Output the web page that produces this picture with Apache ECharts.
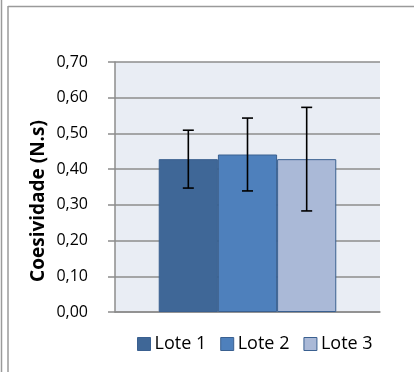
<!DOCTYPE html>
<html>
<head>
<meta charset="utf-8">
<script src="https://cdn.jsdelivr.net/npm/echarts@6/dist/echarts.min.js"></script>
<style>
html,body{margin:0;padding:0;background:#fff;}
#c{width:414px;height:372px;}
</style>
</head>
<body>
<div id="c"></div>
<script>
var categories = [''];
var seriesNames = ['Lote 1', 'Lote 2', 'Lote 3'];
var means = [0.428, 0.441, 0.428];
var errors = [0.081, 0.102, 0.145];
var colors = ['#3F6797', '#4E80BC', '#AAB9D7'];
var yTitle = 'Coesividade (N.s)';

var chart = echarts.init(document.getElementById('c'), null, {renderer: 'canvas'});
var CAT_GAP = 0.33;

var series = [];
seriesNames.forEach(function (name, i) {
  series.push({
    name: name,
    type: 'bar',
    data: [means[i]],
    barGap: '0%',
    barCategoryGap: '33%',
    itemStyle: {color: colors[i], borderColor: '#3A6090', borderWidth: 1},
    z: 2
  });
});
seriesNames.forEach(function (name, i) {
  series.push({
    type: 'custom',
    name: name + ' err',
    data: [[0, means[i], errors[i]]],
    z: 5,
    renderItem: function (params, api) {
      var c = api.coord([api.value(0), api.value(1)]);
      var bandW = api.size([1, 0])[0];
      var bw = bandW * (1 - CAT_GAP) / seriesNames.length;
      var cx = c[0] + (i - (seriesNames.length - 1) / 2) * bw;
      var top = api.coord([api.value(0), api.value(1) + api.value(2)])[1];
      var bot = api.coord([api.value(0), api.value(1) - api.value(2)])[1];
      var hw = 5.5;
      var st = {stroke: '#000', lineWidth: 1.6};
      return {
        type: 'group',
        children: [
          {type: 'line', shape: {x1: cx, y1: top, x2: cx, y2: bot}, style: st},
          {type: 'line', shape: {x1: cx - hw, y1: top, x2: cx + hw, y2: top}, style: st},
          {type: 'line', shape: {x1: cx - hw, y1: bot, x2: cx + hw, y2: bot}, style: st}
        ]
      };
    }
  });
});

chart.setOption({
  animation: false,
  grid: {left: 115, right: 34, top: 62, bottom: 60, show: true, backgroundColor: '#E9EDF4', borderWidth: 0},
  legend: {
    data: seriesNames,
    left: 137, top: 335, padding: 0,
    icon: 'rect', itemWidth: 13, itemHeight: 13, itemGap: 14,
    textStyle: {fontFamily: 'Open Sans', fontSize: 18, color: '#000', padding: [0, 0, 0, -1]},
    itemStyle: {borderColor: '#3A6090', borderWidth: 1}
  },
  xAxis: {
    type: 'category', data: categories,
    axisLine: {show: true, lineStyle: {color: '#8C8C8C', width: 1.5}},
    axisTick: {show: false}, axisLabel: {show: false}
  },
  yAxis: {
    type: 'value', min: 0, max: 0.7, interval: 0.1,
    axisLine: {show: true, lineStyle: {color: '#8C8C8C', width: 1.5}},
    axisTick: {show: true, length: 7, lineStyle: {color: '#8C8C8C', width: 1.5}},
    axisLabel: {
      margin: 27, fontFamily: 'Open Sans', fontSize: 16, color: '#000',
      formatter: function (v) { return v.toFixed(2).replace('.', ','); }
    },
    splitLine: {show: true, lineStyle: {color: '#8C8C8C', width: 1.5}}
  },
  graphic: [
    {type: 'line', shape: {x1: 1.5, y1: 0, x2: 1.5, y2: 372}, style: {stroke: '#9A9A9A', lineWidth: 1.5}},
    {type: 'line', shape: {x1: 8, y1: 6, x2: 8, y2: 372}, style: {stroke: '#9A9A9A', lineWidth: 1.5}},
    {type: 'line', shape: {x1: 8, y1: 6.5, x2: 414, y2: 6.5}, style: {stroke: '#9A9A9A', lineWidth: 1.5}},
    {type: 'text', x: 39, y: 201, rotation: Math.PI / 2,
     style: {text: yTitle, fontFamily: 'Open Sans', fontWeight: 'bold', fontSize: 19, fill: '#000',
             textAlign: 'center', textVerticalAlign: 'middle'}}
  ],
  series: series
});
</script>
</body>
</html>
